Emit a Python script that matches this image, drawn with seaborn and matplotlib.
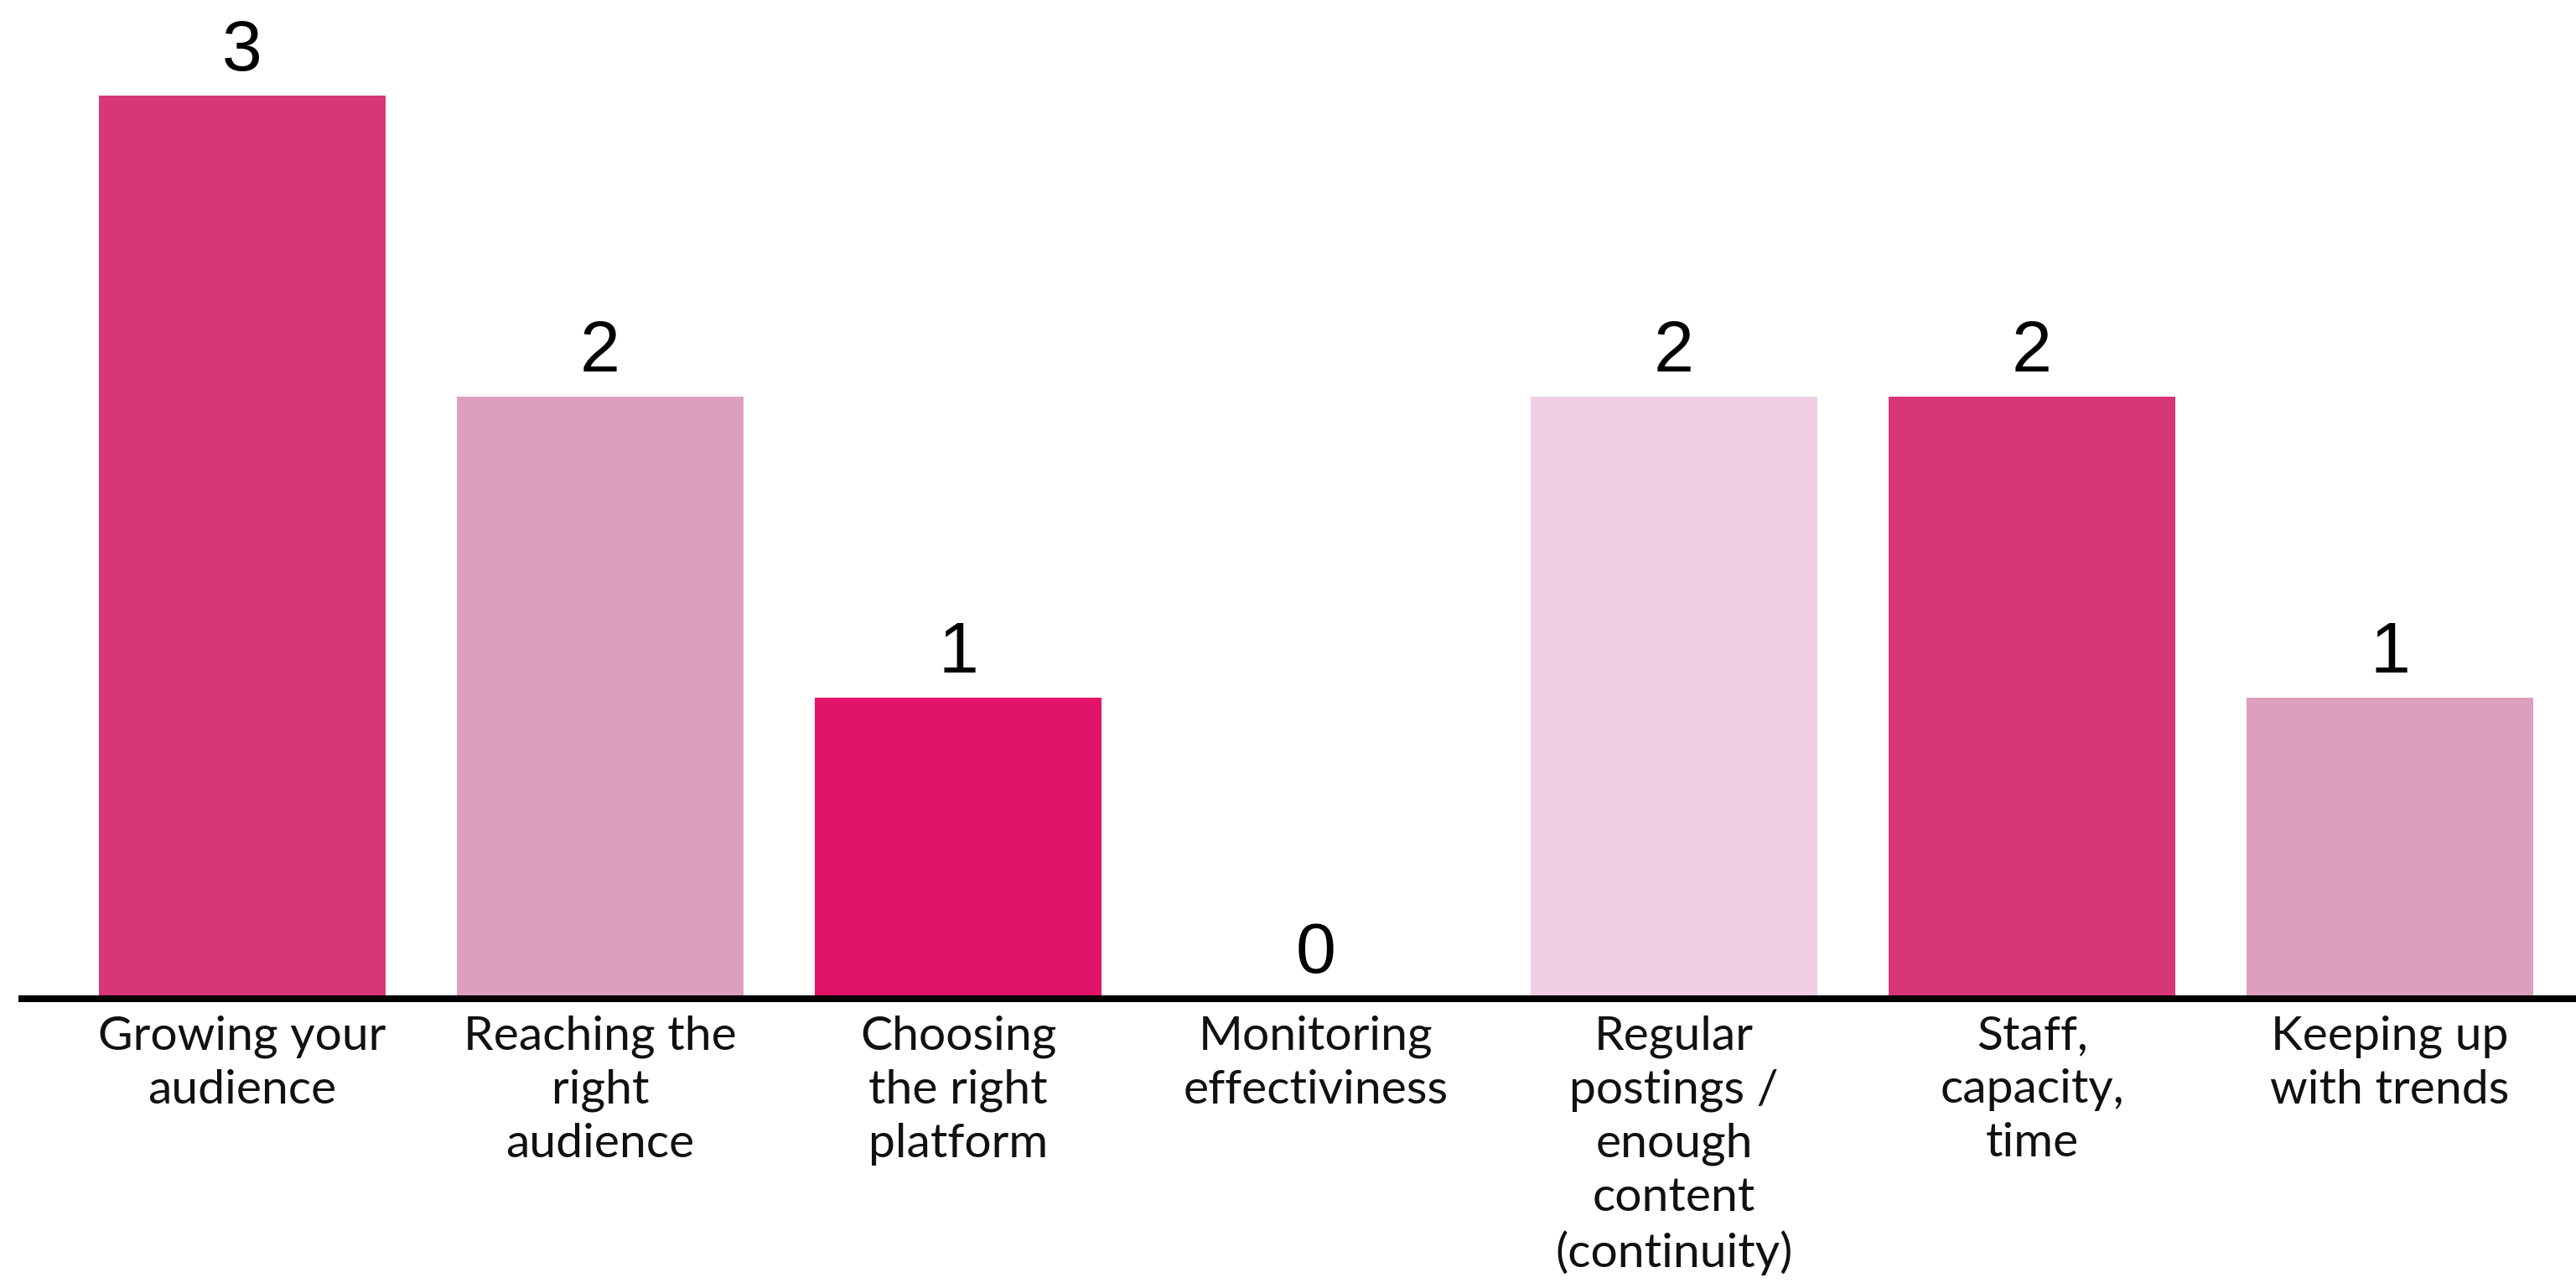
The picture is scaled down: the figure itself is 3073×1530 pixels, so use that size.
import matplotlib
matplotlib.use("Agg")
import matplotlib.pyplot as plt
import seaborn as sns
import pandas as pd

categories = [
    "Growing your\naudience",
    "Reaching the\nright\naudience",
    "Choosing\nthe right\nplatform",
    "Monitoring\neffectiviness",
    "Regular\npostings /\nenough\ncontent\n(continuity)",
    "Staff,\ncapacity,\ntime",
    "Keeping up\nwith trends",
]
values = [3, 2, 1, 0, 2, 2, 1]
bar_colors = ["#D83777", "#DCA0BE", "#E2146A", "#D83777", "#F0CFE5", "#D83777", "#DCA0BE"]

df = pd.DataFrame({"category": categories, "value": values})

sns.set_theme(style="white")
plt.rcParams["font.family"] = ["Lato", "DejaVu Sans"]

fig = plt.figure(figsize=(30.73, 15.30), dpi=100)
ax = fig.add_axes([0.0085, 0.2216, 0.9915, 0.7784])

sns.barplot(data=df, x="category", y="value", hue="category",
            palette=bar_colors, legend=False, width=0.8, ax=ax,
            saturation=1, linewidth=0)

for c in ax.containers:
    ax.bar_label(c, fmt="%d", padding=9, fontsize=62,
                 fontfamily="Liberation Sans", color="black")

ax.set_xlim(-0.616, 6.52)
ax.set_ylim(0, 3.318)
ax.set_xlabel("")
ax.set_ylabel("")
ax.set_yticks([])
for s in ["top", "left", "right"]:
    ax.spines[s].set_visible(False)
ax.spines["bottom"].set_linewidth(5.8)
ax.spines["bottom"].set_color("black")
ax.tick_params(axis="x", length=0, pad=14)
for lbl in ax.get_xticklabels():
    lbl.set_fontsize(41)
    lbl.set_linespacing(1.31)
    lbl.set_color("#111111")

fig.savefig("out.png", dpi=100)
